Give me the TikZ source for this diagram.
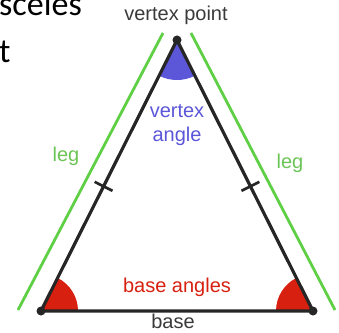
\documentclass[tikz,border=0pt]{standalone}
\usepackage{fontspec}
\setmainfont{Liberation Sans}
\newfontfamily\calfont{Carlito}
\usetikzlibrary{calc}
\definecolor{legGreen}{HTML}{5FCF45}
\definecolor{legText}{HTML}{6CC456}
\definecolor{angBlue}{HTML}{5B57D8}
\definecolor{angRed}{HTML}{D7200F}
\definecolor{labGrey}{HTML}{3A3A3A}
\tikzset{
  side/.style={draw=black!85, line width=3.2pt},
  legline/.style={draw=legGreen, line width=2.8pt},
  tickmark/.style={draw=black!85, line width=2.6pt},
  lab/.style={font=\fontsize{20}{24}\selectfont, inner sep=0pt},
  dotv/.style={circle, fill=black!85, inner sep=0pt, minimum size=9pt},
}
\begin{document}
\begin{tikzpicture}[x=1pt,y=1pt]
\useasboundingbox (0,0) rectangle (339,332);
% vertices
\coordinate (A) at (177,292);
\coordinate (B) at (41,21);
\coordinate (C) at (313,21);
% angle sectors
\fill[angBlue] (A) -- ++(243.35:40) arc[start angle=243.35, end angle=296.65, radius=40] -- cycle;
\fill[angRed] (B) -- ++(0:37) arc[start angle=0, end angle=63.35, radius=37] -- cycle;
\fill[angRed] (C) -- ++(116.65:37) arc[start angle=116.65, end angle=180, radius=37] -- cycle;
% green legs
\coordinate (GL1) at (163,299);
\coordinate (GL2) at (18,22);
\coordinate (GR1) at (191,299);
\coordinate (GR2) at (335,22);
\draw[legline] (GL1) -- (GL2);
\draw[legline] (GR1) -- (GR2);
% sides
\draw[side, line join=round] (B) -- (A) -- (C) -- cycle;
% tick marks
\coordinate (T1) at ($(B)!0.46!(A)$);
\coordinate (T2) at ($(C)!0.46!(A)$);
\draw[tickmark] ($(T1)!10pt!90:(A)$) -- ($(T1)!10pt!-90:(A)$);
\draw[tickmark] ($(T2)!10pt!90:(A)$) -- ($(T2)!10pt!-90:(A)$);
% vertex dots
\node[dotv] (dA) at (A) {};
\node[dotv] (dB) at (B) {};
\node[dotv] (dC) at (C) {};
% labels
\node[lab, text=labGrey, anchor=base] (vp) at (176,311) {vertex point};
\node[lab, text=angBlue, anchor=base] (va1) at (177,214) {vertex};
\node[lab, text=angBlue, anchor=base] (va2) at (177,190) {angle};
\node[lab, text=legText, anchor=base] (legL) at (66,170) {leg};
\node[lab, text=legText, anchor=base] (legR) at (290,164) {leg};
\node[lab, text=angRed, anchor=base] (ba) at (177,40) {base angles};
\node[lab, text=labGrey, anchor=base] (bs) at (173,3.5) {base};
% cut-off title text
\node[font=\calfont\fontsize{34}{40}\selectfont, anchor=base west, inner sep=0pt] (t1) at (-1,316) {sceles};
\node[font=\calfont\fontsize{34}{40}\selectfont, anchor=base west, inner sep=0pt] (t2) at (-1,269) {t};
\end{tikzpicture}
\end{document}
